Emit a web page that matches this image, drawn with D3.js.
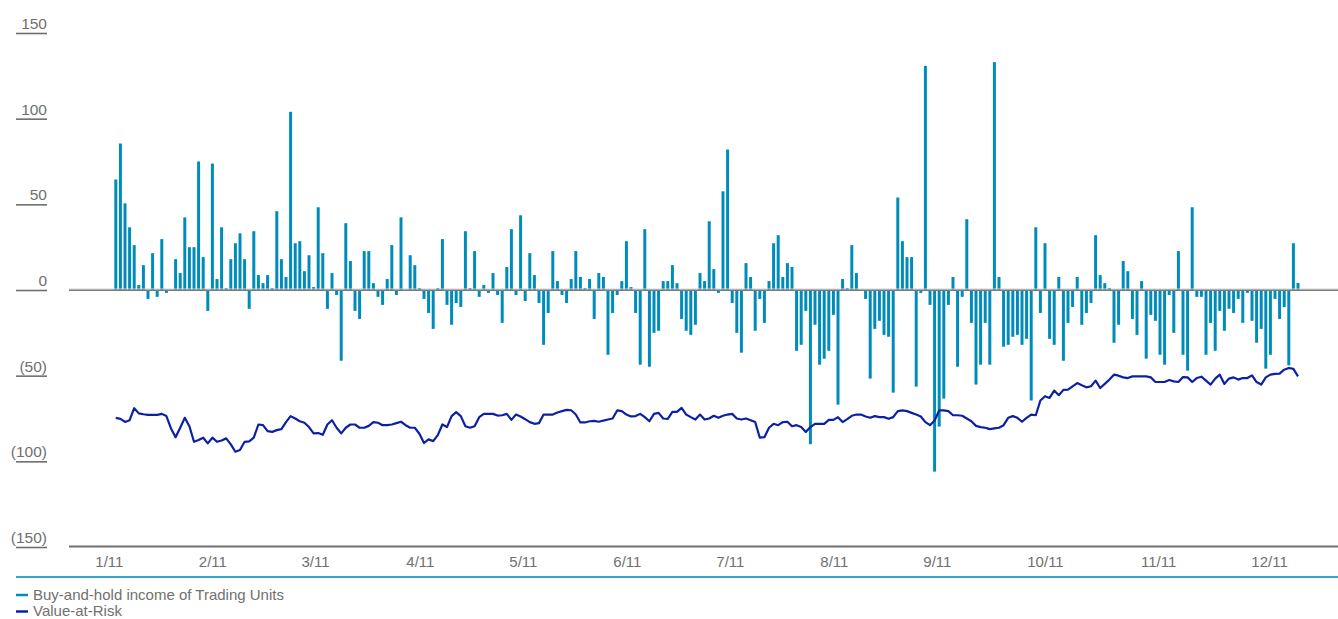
<!DOCTYPE html>
<html>
<head>
<meta charset="utf-8">
<script src="https://cdn.jsdelivr.net/npm/d3@7"></script>
<style>
  body { margin: 0; background: #fff; }
  text { font-family: "Liberation Sans", Arial, sans-serif; }
</style>
</head>
<body>
<div id="root"></div>
<script>
const root = d3.select("#root");

const width = 1338;
const height = 619;

// daily buy-and-hold income of the trading units (EUR m), one entry per trading day
const incomeValues = [
  64.5, 85.5, 50.6, 36.6, 26.2, 2.9, 14.5, -5.2, 21.5, -4, 29.7, -1.7, 0,
  18, 9.9, 42.4, 25, 25, 75, 19.2, -12.2, 73.8, 6.4, 36.6, 1.2, 18, 27.3, 33.1, 18, -11, 34.3,
  8.7, 4, 8.7, 1.2, 46, 18, 7.6, 104, 27.3, 28.5, 11, 20.3, 1.7, 48.3, 21.5, -11, 9.9, -2.9,
  -41.3, 39, 16.9, -12.2, -16.9, 22.7, 22.7, 4, -4, -8.7, 6.4, 26.2, -2.9, 42.4, 0,
  20.3, 14.5, 1.2, -5.2, -13.4, -22.7, 1.2, 29.7, -8.7, -20.3, -7.6, -9.9, 34.3, 1.2, 22.7, -4,
  2.9, -1.7, 9.9, -2.9,
  -19.2, 13.4, 35.5, -2.9, 43.6, -6.4, 21.5, 8.7, -7.6, -32, -13.4, 22.7, 5.2, -2.9, -7.6, 6.4,
  22.7, 7.6, 1.2, 6.4, -16.9, 9.9, 7.6, -37.8, -13.4, -2.9, 5.2, 28.5, 1.7, -13.4, -43.6, 35.5,
  -44.8, -25, -23.8, 5.2, 5.2, 14.5, 4, -16.9, -23.8, -26.2, -20.3,
  9.9, 5.2, 40.1, 12.2, -1.7, 57.6, 82, -7.6, -25, -36.6, 15.7, 7.6, -23.8, -5.2, -19.2, 5.2,
  27.3, 32, 7.6, 15.7, 13.4, -35.5, -32, -12.2, -90, -20.3, -43.6, -40.1, -35.5, -14.5, -66.9,
  6.4, 1.2, 26.2, 9.9, 0,
  -5.2, -51.7, -22.7, -18, -26.2, -27.3, -59.9, 54, 28.5, 19.2, 19.2, -56.4, -1.7, 130.8, -8.7,
  -106, -79.7, -63.4, -8.7, 7.6, -44.8, -4, 41.3, -19.2, -55.2, -43.6, -19.2, -43.6, 133, 7.6,
  -33.1, -32, -27.3, -26.2, -32, -28.5, -64.5, 36.6, -13.4, 27.3, -28.5, -32, 7.6, -41.3, -19.2,
  -9.9, 7.6, -20.3,
  -13.4, -7.6, 32, 8.7, 4, 1.2, -30.8, -20.3, 16.9, 11, -16.9, -26.2, 5.2, -40.1, -14.5, -18,
  -37.8, -43.6, -2.9, -25, 22.7, -37.8, -47.1, 48.3, -4, -4, -37.8, -19.2, -35.5, -12.2, -23.8,
  -11, -13.4, -5.2, -19.2, -1.7, -18, -30.8, -22.7, -45.9, -37.8, -5.2, -16.9,
  -10, -44, 27.3, 4.1,
];

// value-at-risk, same trading days
const varValues = [
  -74.6, -75.2, -77, -76, -69, -72, -72.5, -72.9, -72.9, -72.9, -72.3, -73.6, -80.8, -85.9,
  -80.4, -74.6, -79.5, -88.6, -87.6, -86.2, -89.5, -86.2, -88.6, -87.8, -86.6, -90.1, -94.4,
  -93.4, -88.6, -88.4, -86.2, -78.5, -78.9, -82.4, -82.8, -81.8, -81.2, -77.1, -73.6, -75,
  -76.6, -77.5,
  -80, -83.7, -83.5, -84.5, -78.5, -76, -80.4, -83.7, -80.4, -78.5, -78.5, -80.4, -80.4, -79.3,
  -77.1, -77.5, -78.9, -78.9, -78.5, -77.7, -76.9, -78.9, -80.4, -80.4, -83.9, -89.3, -87.2,
  -88.2, -84.7, -78.5, -80, -73.6, -71.3, -73.6, -79.5, -80.4, -79.5, -74.2, -72.3, -72.3,
  -72.3, -73.3,
  -73.1, -72.3, -75.8, -72.7, -73.8, -75.4, -77.1, -78.1, -77.7, -72.7, -72.7, -72.7, -71.5,
  -70.7, -70, -70.2, -72.7, -77.3, -77.3, -76.6, -76.4, -76.9, -76.2, -75.6, -75, -70.3, -70.7,
  -72.7, -73.8, -73.6, -72.3, -74.2, -76.6, -72.3, -71.7, -75, -75.2, -71.1, -71.1, -68.8,
  -72.7, -74.2, -75.6,
  -72.7, -75.6, -75, -73.4, -74.6, -73.4, -72.7, -72.3, -75, -75.6, -75, -76, -77.1, -86.2,
  -85.9, -80.4, -78.1, -78.9, -77.1, -76.9, -79.5, -78.9, -80, -82.9, -80, -78.1, -78.1, -78.1,
  -75.8, -75.8, -74.2, -77.1, -75.4, -73.4, -72.7, -72.7, -73.8, -74.6, -73.6, -74.2, -74.2,
  -75.2,
  -74.2, -70.7, -70.3, -70.7, -71.7, -72.7, -73.8, -77.1, -78.9, -76.2, -70.3, -70.3, -70.7,
  -73.1, -73.1, -73.4, -75, -76.6, -79.3, -80, -80.4, -81.2, -80.8, -80.4, -78.9, -74.6, -73.6,
  -74.6, -76.9, -74.6, -72.7, -73.1, -64.5, -62, -63, -58.7, -61.4, -58.3, -58.1, -56.2, -54.3,
  -55.6,
  -56.8, -56.2, -52.9, -57.2, -54.8, -52.3, -49.4, -50, -51, -51.4, -50.4, -50.4, -50.4, -50.4,
  -51, -53.7, -53.7, -53.7, -52.5, -53.3, -53.7, -50.8, -51, -53.7, -51.4, -50.6, -52.9, -55.2,
  -51.7, -49.4, -54.8, -51.7, -51, -52.3, -51.4, -51.4, -49.8, -53.7, -55.2, -51, -49.4, -49,
  -48.8,
  -46.5, -45.5, -46, -50.4,
];

const monthLabels = ["1/11", "2/11", "3/11", "4/11", "5/11", "6/11", "7/11", "8/11", "9/11", "10/11", "11/11", "12/11"];
// trading-day position under which each month label is centred
const monthTickDays = [-1.5, 21, 43.3, 66.1, 88.5, 111.1, 133.5, 156.1, 178.5, 202, 226.6, 250.7];
const yTicks = [150, 100, 50, 0, -50, -100, -150];

const legendItems = [
  { label: "Buy-and-hold income of Trading Units", color: "#008cba" },
  { label: "Value-at-Risk", color: "#0c20a4" },
];

const textColor = "#707070";
const axisColor = "#6e6e6e";

const days = d3.range(incomeValues.length);

const xScale = d3
  .scaleBand()
  .domain(days)
  .range([113.5, 113.5 + 4.6 * days.length])
  .paddingInner(0.35)
  .paddingOuter(0.175);

// same days as a continuous scale (centre of each bar), used for the month ticks and the line
const xDay = d3
  .scaleLinear()
  .domain([0, days.length - 1])
  .range([
    xScale(0) + xScale.bandwidth() / 2,
    xScale(days.length - 1) + xScale.bandwidth() / 2,
  ]);

const yScale = d3.scaleLinear().domain([-150, 150]).range([547, 33]);

const svg = root
  .append("svg")
  .attr("width", width)
  .attr("height", height)
  .attr("viewBox", `0 0 ${width} ${height}`);

drawYAxis();
drawBars();
drawZeroLine();
drawVaR();
drawXAxis();
drawLegend();

function drawYAxis() {
  const leftAxis = d3
    .axisLeft(yScale)
    .tickValues(yTicks)
    .tickSize(31)
    .tickFormat((d) => (d < 0 ? `(${-d})` : d));

  const g = svg.append("g").attr("transform", "translate(47, 0)").call(leftAxis);
  g.select(".domain").remove();
  g.selectAll(".tick line").attr("stroke", axisColor).attr("stroke-width", 1.6);
  g.selectAll(".tick text")
    .attr("x", 0)
    .attr("y", -4.5)
    .attr("dy", 0)
    .attr("fill", textColor)
    .style("font-size", "15.5px");
}

function drawBars() {
  svg
    .append("g")
    .selectAll("rect")
    .data(days)
    .join("rect")
    .attr("x", (i) => xScale(i))
    .attr("width", xScale.bandwidth())
    .attr("y", (i) => yScale(Math.max(0, incomeValues[i])))
    .attr("height", (i) => Math.abs(yScale(incomeValues[i]) - yScale(0)))
    .attr("fill", legendItems[0].color);
}

function drawZeroLine() {
  svg
    .append("line")
    .attr("x1", 69)
    .attr("x2", width)
    .attr("y1", yScale(0) - 1)
    .attr("y2", yScale(0) - 1)
    .attr("stroke", "#d2d2d2")
    .attr("stroke-width", 1);
  svg
    .append("line")
    .attr("x1", 69)
    .attr("x2", width)
    .attr("y1", yScale(0) + 0.3)
    .attr("y2", yScale(0) + 0.3)
    .attr("stroke", "#7a7a7a")
    .attr("stroke-width", 1.4);
}

function drawVaR() {
  const lineGenerator = d3
    .line()
    .x((i) => xDay(i))
    .y((i) => yScale(varValues[i]));

  svg
    .append("path")
    .attr("d", lineGenerator(days))
    .attr("fill", "none")
    .attr("stroke", legendItems[1].color)
    .attr("stroke-width", 2.2)
    .attr("stroke-linejoin", "round");
}

function drawXAxis() {
  svg
    .append("line")
    .attr("x1", 69)
    .attr("x2", width)
    .attr("y1", yScale(-150) - 0.5)
    .attr("y2", yScale(-150) - 0.5)
    .attr("stroke", axisColor)
    .attr("stroke-width", 2);

  const bottomAxis = d3
    .axisBottom(xDay)
    .tickValues(monthTickDays)
    .tickFormat((d, i) => monthLabels[i])
    .tickSize(0)
    .tickPadding(9);
  const g = svg
    .append("g")
    .attr("transform", `translate(0, ${yScale(-150)})`)
    .call(bottomAxis);
  g.select(".domain").remove();
  g.selectAll(".tick text").attr("fill", textColor).style("font-size", "15px");
}

function drawLegend() {
  svg
    .append("line")
    .attr("x1", 16)
    .attr("x2", width)
    .attr("y1", 577)
    .attr("y2", 577)
    .attr("stroke", "#35a3cb")
    .attr("stroke-width", 2);

  const items = svg
    .append("g")
    .selectAll("g")
    .data(legendItems)
    .join("g")
    .attr("transform", (d, i) => `translate(16, ${595 + i * 16.5})`);

  items
    .append("line")
    .attr("x1", 0)
    .attr("x2", 12)
    .attr("stroke", (d) => d.color)
    .attr("stroke-width", 2.5);

  items
    .append("text")
    .text((d) => d.label)
    .attr("x", 17)
    .attr("y", 4.5)
    .attr("fill", textColor)
    .style("font-size", "15px");
}
</script>
</body>
</html>
